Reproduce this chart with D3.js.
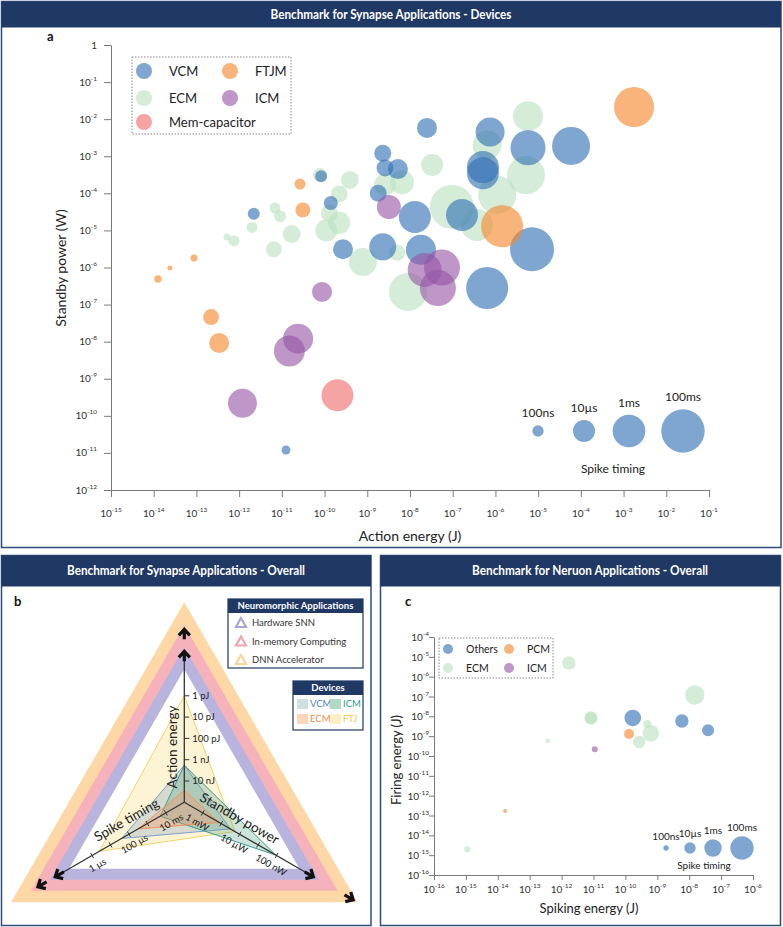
<!DOCTYPE html>
<html><head><meta charset="utf-8">
<script src="https://cdn.jsdelivr.net/npm/d3@7"></script>
<style>
body{margin:0;background:#fff}
text{font-family:Lato,"Open Sans",sans-serif}
</style></head>
<body><svg id="chart" width="783" height="927"></svg>
<script>
// ---------- Panel a data: [action energy (J), standby power (W), spike timing (s)]
const vcmA = [
 [2.2e-12,2.8e-5,1.3e-7],[8.3e-11,2.9e-4,1.3e-7],[1.4e-10,5.5e-5,3.1e-7],[2.7e-10,3.1e-6,4.1e-6],
 [2.3e-9,1.2e-3,1.1e-6],[2.6e-9,4.8e-4,1.1e-6],[5.2e-9,4.5e-4,4.1e-6],[1.8e-9,1.0e-4,1.1e-6],
 [1.3e-8,2.3e-5,7.2e-4],[2.3e-9,3.6e-6,8.4e-5],[2.5e-8,5.8e-3,4.1e-6],[1.8e-8,3.0e-6,3.1e-4],
 [7.5e-7,4.5e-3,2.0e-4],[5.8e-6,1.7e-3,2.7e-3],[5.9e-5,1.9e-3,9.8e-3],[5.1e-7,5.1e-4,7.2e-4],
 [5.1e-7,3.5e-4,7.2e-4],[1.65e-7,2.6e-5,7.2e-4],[7.2e-6,3.1e-6,0.13],[6.4e-7,2.8e-7,5.5e-2],
 [1.25e-11,1.2e-11,3.5e-8]
];
const ecmA = [
 [5.2e-13,6.6e-6,1.5e-8],[7.6e-13,5.2e-6,8.4e-8],[2.0e-12,1.2e-5,8.4e-8],[6.9e-12,4.0e-5,8.4e-8],
 [9.1e-12,2.4e-5,1.3e-7],[6.5e-12,3.1e-6,7.2e-7],[1.7e-11,8.0e-6,1.7e-6],[7.8e-11,3.1e-4,3.1e-7],
 [2.2e-10,9.6e-5,1.1e-6],[3.9e-10,2.3e-4,1.7e-6],[1.3e-10,2.9e-5,1.1e-6],[2.2e-10,1.6e-5,9.8e-6],
 [1.1e-10,1.0e-5,9.8e-6],[7.9e-10,1.4e-6,1.3e-4],[5.0e-9,2.5e-6,7.2e-7],[2.6e-9,1.7e-4,9.8e-6],
 [6.5e-9,2.0e-4,2.3e-5],[3.3e-8,5.8e-4,9.8e-6],[9.0e-9,2.2e-7,9.8e-3],[9.6e-8,4.3e-5,0.13],
 [5.8e-6,1.2e-2,3.1e-4],[6.4e-7,2.0e-3,2.0e-4],[5.2e-6,3.1e-4,9.8e-3],[1.1e-6,9.0e-5,9.8e-3],
 [3.7e-7,1.4e-5,7.2e-4]
];
const ftjmA = [
 [1.26e-14,4.9e-7,1.8e-8],[2.4e-14,9.7e-7,6.3e-9],[8.8e-14,1.8e-6,1.5e-8],[2.66e-11,1.78e-4,8.4e-8],
 [3.1e-11,3.55e-5,4.7e-7],[2.2e-13,4.6e-8,7.2e-7],[3.4e-13,9.2e-9,4.1e-6],[1.43e-6,1.3e-5,5.5e-2],
 [1.76e-3,2.13e-2,2.3e-2]
];
const icmA = [
 [3.2e-9,4.3e-5,2.3e-5],[2.2e-8,8.6e-7,1.7e-3],[5.6e-8,1.0e-6,4.1e-3],[4.5e-8,2.8e-7,4.1e-3],
 [8.7e-11,2.2e-7,4.1e-6],[2.4e-11,1.2e-8,3.1e-4],[1.5e-11,5.6e-9,4.7e-4],[1.2e-12,2.2e-10,2.0e-4]
];
const memcapA = [[2.0e-10,3.6e-10,7.2e-4]];
const xTicksA = d3.range(-15, 0);   // exponents 10^-15 .. 10^-1
const yTicksA = d3.range(-12, 1);   // exponents 10^-12 .. 10^0
const sizeLegendT = [1e-7, 1e-5, 1e-3, 1e-1];
const sizeLegendLabels = ["100ns", "10µs", "1ms", "100ms"];

// ---------- Panel c data: [spiking energy (J), firing energy (J), spike timing (s)]
const othersC = [[1.7e-10,8.3e-9,5.4e-4],[5.9e-9,5.8e-9,4.7e-5],[3.9e-8,2.0e-9,1.6e-5]];
const ecmC = [
 [1.7e-12,4.9e-6,4.7e-5],[1.5e-8,1.2e-7,4.7e-3],[8.3e-12,8.3e-9,4.7e-5],[8.3e-12,8.3e-9,1.6e-5],
 [4.8e-10,4.1e-9,7.4e-7],[6.3e-10,1.4e-9,5.4e-4],[2.7e-10,5.1e-10,2.5e-5],[3.7e-13,5.8e-10,5.4e-8],
 [1.1e-15,2.0e-15,1.6e-7]
];
const pcmC = [[1.3e-10,1.3e-9,3.4e-6],[1.7e-14,1.7e-13,3.4e-8]];
const icmC = [[1.1e-11,2.2e-10,1.6e-7]];
const xTicksC = d3.range(-16, -5);
const yTicksC = d3.range(-16, -3);

// ---------- Panel b data
const radarDevices = ["FTJ", "VCM", "ICM", "ECM"];
const radarEnergy = [1e-12, 1.8e-9, 1.8e-9, 2.8e-8];
const radarTiming = [2.5e-6, 4e-5, 5e-3, 3.2e-4];
const radarPower  = [1.8e-5, 3.2e-5, 1.1e-7, 1.3e-4];
const energyTicks = [1e-8, 1e-9, 1e-10, 1e-11, 1e-12];
const energyTickLabels = ["10 nJ", "1 nJ", "100 pJ", "10 pJ", "1 pJ"];
const timingTicks = [1e-2, 1e-3, 1e-4, 1e-5, 1e-6];
const timingTickLabels = ["10 ms", "", "100 µs", "", "1 µs"];
const powerTicks = [1e-3, 1e-4, 1e-5, 1e-6, 1e-7];
const powerTickLabels = ["1 mW", "", "10 µW", "", "100 nW"];
const applications = ["Hardware SNN", "In-memory Computing", "DNN Accelerator"];

// ---------- styles
const navy = "#1f3864";
const colA = {VCM:"#306fb3", ECM:"#bbe0c0", FTJM:"#f5862c", ICM:"#9655a6", Mem:"#f06a6a"};
const OP = 0.62;

const svg = d3.select("#chart");

function panel(x, y, w, h, hh, title, tl, tx) {
  svg.append("rect").attr("x", x).attr("y", y).attr("width", w).attr("height", h)
    .attr("fill", "#fff").attr("stroke", "#2f4c7c").attr("stroke-width", 1.5);
  svg.append("rect").attr("x", x).attr("y", y).attr("width", w).attr("height", hh).attr("fill", navy);
  svg.append("text").attr("x", tx).attr("y", y + hh / 2).attr("dy", "0.35em")
    .attr("text-anchor", "middle").attr("fill", "#fff").attr("font-weight", "bold")
    .attr("font-size", 12.5).attr("textLength", tl).attr("lengthAdjust", "spacingAndGlyphs").text(title);
}
panel(1.5, 1.5, 779.5, 546, 26, "Benchmark for Synapse Applications - Devices", 241, 391);
panel(1.5, 555.5, 369.5, 370, 31, "Benchmark for Synapse Applications - Overall", 238, 186);
panel(380.5, 555.5, 400, 370, 31, "Benchmark for Neruon Applications - Overall", 236, 590);

function supText(sel, e, fs) {
  if (e === 0) { sel.text("1"); return; }
  sel.append("tspan").text("10");
  sel.append("tspan").attr("dy", -fs * 0.5).attr("font-size", fs * 0.65).text(e);
}
function minorVals(lo, hi) {
  const out = [];
  for (let e = lo; e < hi; e++) for (let m = 2; m <= 9; m++) out.push(m * Math.pow(10, e));
  return out;
}
function styleAxis(g) {
  g.selectAll("path,line").attr("stroke", "#7a7a7a").attr("stroke-width", 1);
}

// ================= Panel a =================
const xA = d3.scaleLog().domain([1e-15, 1e-1]).range([111, 709]);
const yA = d3.scaleLog().domain([1e-12, 1]).range([490, 45]);
const rA = d3.scaleLog().domain([1e-7, 1e-1]).range([5.7, 21.7]);

const gxA = svg.append("g").attr("transform", "translate(0,490)");
gxA.call(d3.axisBottom(xA).tickValues(minorVals(-15, -1)).tickSize(4).tickSizeOuter(0).tickFormat(""));
gxA.call(d3.axisBottom(xA).tickValues(xTicksA.map(e => Math.pow(10, e)).concat([0.1])).tickSize(7).tickSizeOuter(0).tickFormat(""));
styleAxis(gxA);
const gyA = svg.append("g").attr("transform", "translate(111,0)");
gyA.call(d3.axisLeft(yA).tickValues(minorVals(-12, 0)).tickSize(4).tickSizeOuter(0).tickFormat(""));
gyA.call(d3.axisLeft(yA).tickValues(yTicksA.map(e => Math.pow(10, e))).tickSize(7).tickSizeOuter(0).tickFormat(""));
styleAxis(gyA);

xTicksA.forEach(e => {
  svg.append("text").attr("x", xA(Math.pow(10, e))).attr("y", 517).attr("text-anchor", "middle")
    .attr("font-size", 10).attr("fill", "#333").call(s => supText(s, e, 10));
});
yTicksA.forEach(e => {
  svg.append("text").attr("x", 97).attr("y", yA(Math.pow(10, e)) + 3.5).attr("text-anchor", "end")
    .attr("font-size", 10).attr("fill", "#333").call(s => supText(s, e, 10));
});
svg.append("text").attr("x", 410).attr("y", 541).attr("text-anchor", "middle").attr("font-size", 14)
  .attr("fill", "#222").text("Action energy (J)");
svg.append("text").attr("transform", "translate(66,268) rotate(-90)").attr("text-anchor", "middle")
  .attr("font-size", 14).attr("fill", "#222").text("Standby power (W)");
svg.append("text").attr("x", 47).attr("y", 41).attr("font-weight", "bold").attr("font-size", 13)
  .attr("fill", "#111").text("a");

function bubbles(data, color, xs, ys, rs) {
  svg.append("g").selectAll("circle").data(data).join("circle")
    .attr("cx", d => xs(d[0])).attr("cy", d => ys(d[1])).attr("r", d => rs(d[2]))
    .attr("fill", color).attr("fill-opacity", OP);
}
bubbles(ecmA, colA.ECM, xA, yA, rA);
bubbles(vcmA, colA.VCM, xA, yA, rA);
bubbles(icmA, colA.ICM, xA, yA, rA);
bubbles(ftjmA, colA.FTJM, xA, yA, rA);
bubbles(memcapA, colA.Mem, xA, yA, rA);

svg.append("rect").attr("x", 132).attr("y", 57).attr("width", 159).attr("height", 77)
  .attr("fill", "none").attr("stroke", "#888").attr("stroke-dasharray", "1.5,1.5");
[["VCM", colA.VCM, 144, 71], ["FTJM", colA.FTJM, 230, 71], ["ECM", colA.ECM, 144, 98],
 ["ICM", colA.ICM, 230, 98], ["Mem-capacitor", colA.Mem, 144, 122]].forEach(([t, c, x, y]) => {
  svg.append("circle").attr("cx", x).attr("cy", y).attr("r", 8).attr("fill", c).attr("fill-opacity", OP);
  svg.append("text").attr("x", x + 25).attr("y", y).attr("dy", "0.35em").attr("font-size", 13)
    .attr("fill", "#222").text(t);
});
const slxA = [538, 584, 629, 683];
sizeLegendT.forEach((t, i) => {
  const r = rA(t);
  svg.append("circle").attr("cx", slxA[i]).attr("cy", 431).attr("r", r).attr("fill", colA.VCM).attr("fill-opacity", OP);
  svg.append("text").attr("x", slxA[i]).attr("y", 431 - r - 8).attr("text-anchor", "middle")
    .attr("font-size", 12).attr("fill", "#222").text(sizeLegendLabels[i]);
});
svg.append("text").attr("x", 613).attr("y", 473).attr("text-anchor", "middle").attr("font-size", 12)
  .attr("fill", "#222").text("Spike timing");

// ================= Panel c =================
const xC = d3.scaleLog().domain([1e-16, 1e-6]).range([434, 753]);
const yC = d3.scaleLog().domain([1e-16, 1e-4]).range([875, 637]);
const rC = d3.scaleLog().domain([1e-7, 1e-1]).range([2.7, 11.7]);

const gxC = svg.append("g").attr("transform", "translate(0,875)");
gxC.call(d3.axisBottom(xC).tickValues(minorVals(-16, -6)).tickSize(3).tickSizeOuter(0).tickFormat(""));
gxC.call(d3.axisBottom(xC).tickValues(xTicksC.map(e => Math.pow(10, e))).tickSize(5).tickSizeOuter(0).tickFormat(""));
styleAxis(gxC);
const gyC = svg.append("g").attr("transform", "translate(434,0)");
gyC.call(d3.axisLeft(yC).tickValues(minorVals(-16, -4)).tickSize(3).tickSizeOuter(0).tickFormat(""));
gyC.call(d3.axisLeft(yC).tickValues(yTicksC.map(e => Math.pow(10, e))).tickSize(5).tickSizeOuter(0).tickFormat(""));
styleAxis(gyC);
xTicksC.forEach(e => {
  svg.append("text").attr("x", xC(Math.pow(10, e))).attr("y", 893).attr("text-anchor", "middle")
    .attr("font-size", 10).attr("fill", "#333").call(s => supText(s, e, 10));
});
yTicksC.forEach(e => {
  svg.append("text").attr("x", 429).attr("y", yC(Math.pow(10, e)) + 4).attr("text-anchor", "end")
    .attr("font-size", 10).attr("fill", "#333").call(s => supText(s, e, 10));
});
svg.append("text").attr("x", 589).attr("y", 913).attr("text-anchor", "middle").attr("font-size", 13)
  .attr("fill", "#222").text("Spiking energy (J)");
svg.append("text").attr("transform", "translate(401,760) rotate(-90)").attr("text-anchor", "middle")
  .attr("font-size", 13).attr("fill", "#222").text("Firing energy (J)");
svg.append("text").attr("x", 405).attr("y", 606).attr("font-weight", "bold").attr("font-size", 13)
  .attr("fill", "#111").text("c");

bubbles(ecmC, colA.ECM, xC, yC, rC);
bubbles(othersC, colA.VCM, xC, yC, rC);
bubbles(pcmC, colA.FTJM, xC, yC, rC);
bubbles(icmC, colA.ICM, xC, yC, rC);

svg.append("rect").attr("x", 439).attr("y", 638).attr("width", 114).attr("height", 40)
  .attr("fill", "none").attr("stroke", "#888").attr("stroke-dasharray", "1.5,1.5");
[["Others", colA.VCM, 448, 649], ["PCM", colA.FTJM, 509, 649], ["ECM", colA.ECM, 448, 668],
 ["ICM", colA.ICM, 509, 668]].forEach(([t, c, x, y]) => {
  svg.append("circle").attr("cx", x).attr("cy", y).attr("r", 5).attr("fill", c).attr("fill-opacity", OP);
  svg.append("text").attr("x", x + 18).attr("y", y).attr("dy", "0.35em").attr("font-size", 10.5)
    .attr("fill", "#222").text(t);
});
const slxC = [666, 690, 713, 742];
sizeLegendT.forEach((t, i) => {
  const r = rC(t);
  svg.append("circle").attr("cx", slxC[i]).attr("cy", 848).attr("r", r).attr("fill", colA.VCM).attr("fill-opacity", OP);
  svg.append("text").attr("x", slxC[i]).attr("y", 848 - r - 5).attr("text-anchor", "middle")
    .attr("font-size", 10).attr("fill", "#222").text(sizeLegendLabels[i]);
});
svg.append("text").attr("x", 704).attr("y", 869).attr("text-anchor", "middle").attr("font-size", 10)
  .attr("fill", "#222").text("Spike timing");

// ================= Panel b (radar) =================
const cx = 184.3, cy = 802.3;
const dirs = [[0, -1], [-Math.cos(Math.PI / 6), 0.5], [Math.cos(Math.PI / 6), 0.5]];
const unit = 21.3;
const eS = d3.scaleLog().domain([1e-7, 1e-12]).range([0, 5 * unit]);
const tS = d3.scaleLog().domain([1e-1, 1e-6]).range([0, 5 * unit]);
const pS = d3.scaleLog().domain([1e-2, 1e-7]).range([0, 5 * unit]);
const pt = (a, r) => [cx + dirs[a][0] * r, cy + dirs[a][1] * r];

function tri(R, fill) {
  svg.append("path").attr("d", d3.line()([pt(0, R), pt(2, R), pt(1, R)]) + "Z").attr("fill", fill);
}
tri(200, "#fdd7a6");
tri(177, "#f6b2ba");
tri(155, "#b8b4de");
tri(133, "#ffffff");

const devFill = {FTJ: "rgba(250,222,130,0.33)", VCM: "rgba(140,170,195,0.35)", ICM: "rgba(90,165,140,0.3)", ECM: "rgba(245,150,100,0.35)"};
const devStroke = {FTJ: "#f3d36a", VCM: "#7b9fcc", ICM: "#3d9c8a", ECM: "#f0925e"};
radarDevices.forEach((d, i) => {
  const pts = [pt(0, eS(radarEnergy[i])), pt(2, pS(radarPower[i])), pt(1, tS(radarTiming[i]))];
  svg.append("path").attr("d", d3.line()(pts) + "Z").attr("fill", devFill[d])
    .attr("stroke", devStroke[d]).attr("stroke-width", 1);
});

const armLen = [150, 148, 148];
[0, 1, 2].forEach(a => {
  const [x2, y2] = pt(a, armLen[a]);
  svg.append("line").attr("x1", cx).attr("y1", cy).attr("x2", x2).attr("y2", y2)
    .attr("stroke", "#333").attr("stroke-width", 1.3);
});
function axisTicks(a, scale, vals, labels, n) {
  vals.forEach((v, i) => {
    const r = scale(v);
    const [x, y] = pt(a, r);
    if (a === 0) {
      svg.append("line").attr("x1", x).attr("y1", y).attr("x2", x + 5).attr("y2", y).attr("stroke", "#333");
      svg.append("text").attr("x", x + 8).attr("y", y).attr("dy", "0.35em").attr("font-size", 9.5)
        .attr("fill", "#222").text(labels[i]);
    } else {
      svg.append("line").attr("x1", x - n[0] * 3).attr("y1", y - n[1] * 3)
        .attr("x2", x + n[0] * 3).attr("y2", y + n[1] * 3).attr("stroke", "#333");
      if (labels[i]) {
        const ang = a === 1 ? -30 : 30;
        svg.append("text").attr("transform", `translate(${x + n[0] * 11},${y + n[1] * 11}) rotate(${ang})`)
          .attr("text-anchor", "middle").attr("dy", "0.35em").attr("font-size", 9.5).attr("fill", "#222").text(labels[i]);
      }
    }
  });
}
axisTicks(0, eS, energyTicks, energyTickLabels, [1, 0]);
axisTicks(1, tS, timingTicks, timingTickLabels, [0.5, 0.866]);
axisTicks(2, pS, powerTicks, powerTickLabels, [-0.5, 0.866]);

svg.append("text").attr("transform", "translate(177,747) rotate(-90)").attr("text-anchor", "middle")
  .attr("font-size", 13.5).attr("fill", "#222").text("Action energy");
{
  const [x, y] = pt(1, 59);
  svg.append("text").attr("transform", `translate(${x - 0.5 * 9},${y - 0.866 * 9}) rotate(-30)`)
    .attr("text-anchor", "middle").attr("font-size", 13.5).attr("fill", "#222").text("Spike timing");
}
{
  const [x, y] = pt(2, 56);
  svg.append("text").attr("transform", `translate(${x + 0.5 * 9},${y - 0.866 * 9}) rotate(30)`)
    .attr("text-anchor", "middle").attr("font-size", 13.5).attr("fill", "#222").text("Standby power");
}

const arrowR = [[152, 174], [150, 170], [150, 196]];
[0, 1, 2].forEach(a => {
  const ang = Math.atan2(dirs[a][1], dirs[a][0]) * 180 / Math.PI;
  arrowR[a].forEach(r => {
    const [x, y] = pt(a, r);
    svg.append("path").attr("transform", `translate(${x},${y}) rotate(${ang})`)
      .attr("d", "M-11,0L-1,0M-7,-5.5L-1,0L-7,5.5").attr("fill", "none")
      .attr("stroke", "#111").attr("stroke-width", 3.2).attr("stroke-linecap", "butt");
  });
});

svg.append("text").attr("x", 14).attr("y", 606).attr("font-weight", "bold").attr("font-size", 13)
  .attr("fill", "#111").text("b");

svg.append("rect").attr("x", 228).attr("y", 599).attr("width", 135).attr("height", 69)
  .attr("fill", "#fff").attr("stroke", navy).attr("stroke-width", 1.2);
svg.append("rect").attr("x", 228).attr("y", 599).attr("width", 135).attr("height", 14).attr("fill", navy);
svg.append("text").attr("x", 295.5).attr("y", 606).attr("dy", "0.35em").attr("text-anchor", "middle")
  .attr("fill", "#fff").attr("font-weight", "bold").attr("font-size", 9.5).text("Neuromorphic Applications");
const appCol = ["#aaa7d8", "#f4a3ac", "#fbd39f"];
applications.forEach((t, i) => {
  const y = 623 + i * 18.5;
  svg.append("path").attr("d", `M241,${y - 5}L246,${y + 4}L236,${y + 4}Z`).attr("fill", "none")
    .attr("stroke", appCol[i]).attr("stroke-width", 2.2);
  svg.append("text").attr("x", 252).attr("y", y).attr("dy", "0.35em").attr("font-size", 9.5)
    .attr("fill", "#333").text(t);
});
svg.append("rect").attr("x", 293).attr("y", 681).attr("width", 70).attr("height", 49)
  .attr("fill", "#fff").attr("stroke", navy).attr("stroke-width", 1.2);
svg.append("rect").attr("x", 293).attr("y", 681).attr("width", 70).attr("height", 14).attr("fill", navy);
svg.append("text").attr("x", 328).attr("y", 688).attr("dy", "0.35em").attr("text-anchor", "middle")
  .attr("fill", "#fff").attr("font-weight", "bold").attr("font-size", 9.5).text("Devices");
const devLegend = [["VCM", 297, 704, "#cfdde4", "#4f7fc0"], ["ICM", 330, 704, "#b2d9c6", "#2a9d8a"],
                   ["ECM", 297, 719, "#fcd6b6", "#f08a4b"], ["FTJ", 330, 719, "#fcefc4", "#f2c84b"]];
devLegend.forEach(([t, x, y, f, c]) => {
  svg.append("rect").attr("x", x).attr("y", y - 5).attr("width", 11).attr("height", 10).attr("fill", f);
  svg.append("text").attr("x", x + 13).attr("y", y).attr("dy", "0.35em").attr("font-size", 9.5)
    .attr("fill", c).text(t);
});
</script></body></html>
